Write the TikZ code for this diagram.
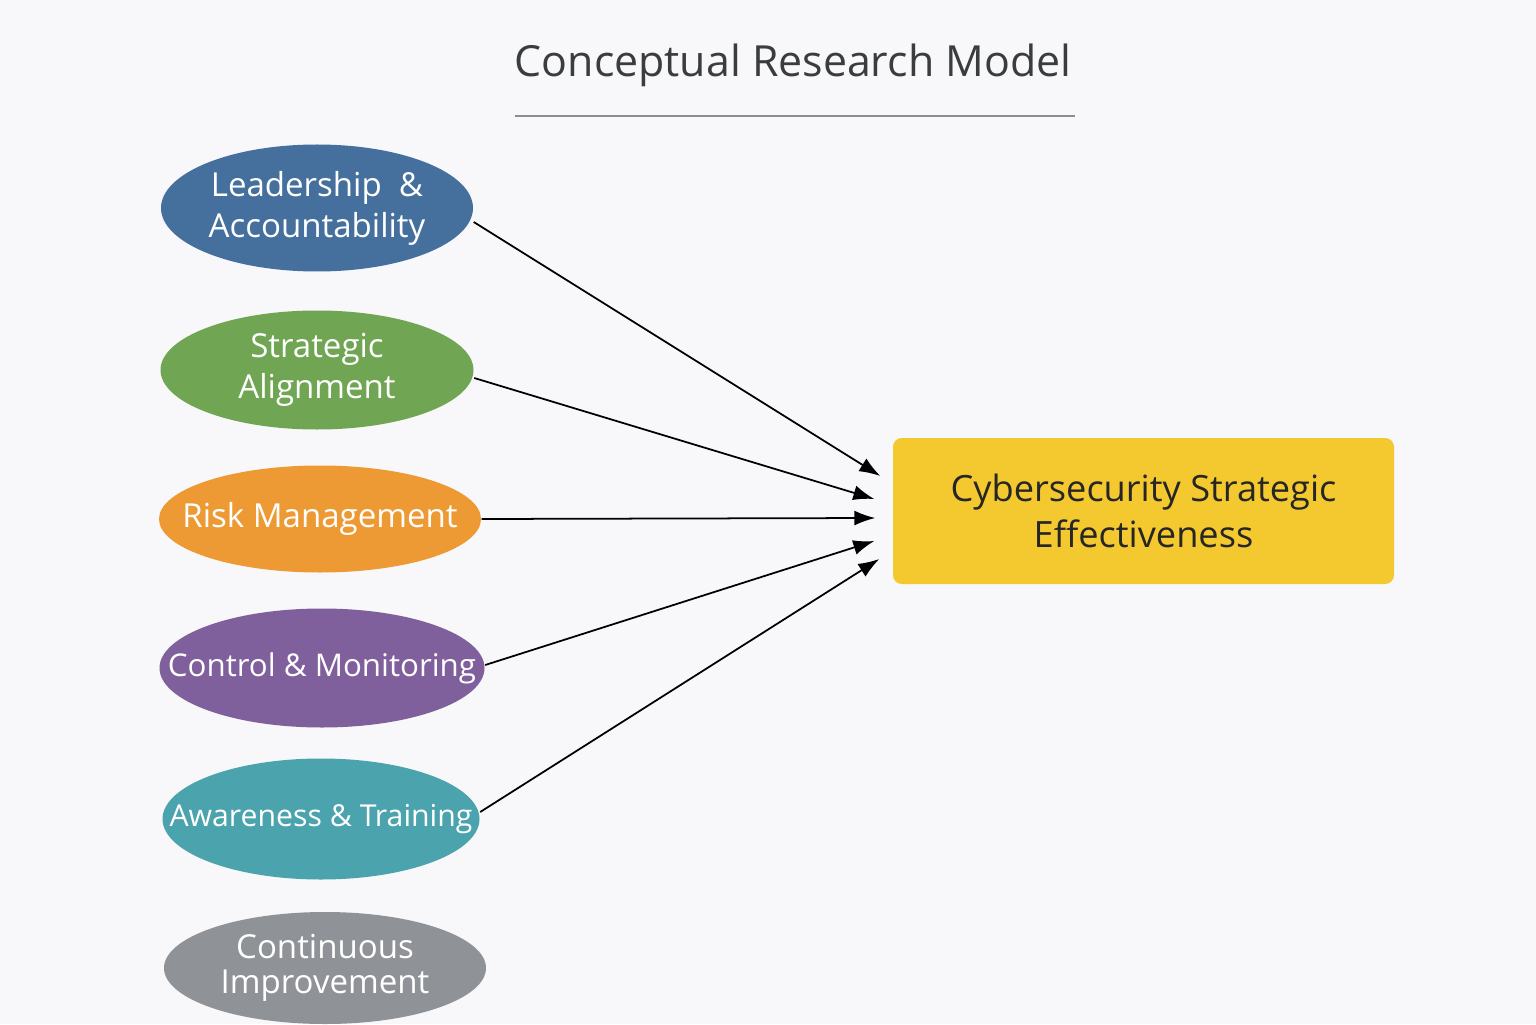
\documentclass[tikz,border=0pt]{standalone}
\usepackage{fontspec}
\setmainfont{Open Sans}
\usepackage{tikz}
\usetikzlibrary{positioning,
                shapes.geometric,
                arrows.meta}
\usepackage{xcolor}
\definecolor{pagebg}{HTML}{F8F7F9}
\definecolor{titlegray}{HTML}{3A3D40}
\definecolor{rulegray}{HTML}{8A8F94}
\definecolor{leadblue}{HTML}{45709E}
\definecolor{stratgreen}{HTML}{70A553}
\definecolor{riskorange}{HTML}{EE9A34}
\definecolor{ctrlpurple}{HTML}{7F609C}
\definecolor{awareteal}{HTML}{4BA4AD}
\definecolor{contgray}{HTML}{8F9297}
\definecolor{goalyellow}{HTML}{F4C92F}

\begin{document}
\begin{tikzpicture}[x=1cm,y=1cm]

%--------------------------------------------------
% STYLES
%--------------------------------------------------

\tikzset{
factor/.style={
ellipse,
draw=none,
inner sep=-6mm,
align=center,
text=white,
font=\fontsize{9.4}{11.7}\selectfont
},
outcome/.style={
draw=none,
rounded corners=2.5pt,
minimum width=5.01cm,
minimum height=1.46cm,
align=center,
text=black!85,
font=\fontsize{10.3}{13.2}\selectfont
},
link/.style={
-{Latex[length=2.1mm,width=1.5mm]},
line width=0.5pt,
black
}
}

%--------------------------------------------------
% FRAME
%--------------------------------------------------

\fill[pagebg] (0,0) rectangle (15.36,10.24);
\useasboundingbox (0,0) rectangle (15.36,10.24);

%--------------------------------------------------
% TITLE
%--------------------------------------------------

\node[font=\fontsize{12.2}{14}\selectfont,text=titlegray] (title)
at (7.93,9.59)
{Conceptual Research Model};

\draw[rulegray,line width=0.5pt] (5.15,9.08)--(10.75,9.08);

%--------------------------------------------------
% FACTORS
%--------------------------------------------------

\node[factor,fill=leadblue,minimum width=3.12cm,minimum height=1.27cm]
(lead) at (3.17,8.16)
{Leadership \ \&\\Accountability};

\node[factor,fill=stratgreen,minimum width=3.13cm,minimum height=1.19cm]
(strat) at (3.17,6.54)
{Strategic\\Alignment};

\node[factor,fill=riskorange,minimum width=3.22cm,minimum height=1.07cm]
(risk) at (3.20,5.05)
{Risk Management};

\node[factor,fill=ctrlpurple,minimum width=3.25cm,minimum height=1.19cm,
font=\fontsize{8.9}{11}\selectfont]
(ctrl) at (3.22,3.56)
{Control \& Monitoring};

\node[factor,fill=awareteal,minimum width=3.17cm,minimum height=1.21cm,
font=\fontsize{8.6}{11}\selectfont]
(aware) at (3.21,2.05)
{Awareness \& Training};

\node[factor,fill=contgray,minimum width=3.22cm,minimum height=1.12cm,
font=\fontsize{9.4}{10}\selectfont]
(cont) at (3.25,0.56)
{Continuous\\Improvement};

%--------------------------------------------------
% OUTCOME
%--------------------------------------------------

\node[outcome,fill=goalyellow]
(goal) at (11.435,5.13)
{Cybersecurity Strategic\\Effectiveness};

%--------------------------------------------------
% LINKS
%--------------------------------------------------

\draw[link] ([yshift=-1.4mm]lead.east) -- ([xshift=-1.2mm,yshift=3.5mm]goal.west);
\draw[link] ([yshift=-0.8mm]strat.east) -- ([xshift=-1.8mm,yshift=1.2mm]goal.west);
\draw[link] (risk.east) -- ([xshift=-1.7mm,yshift=-0.7mm]goal.west);
\draw[link] ([yshift=0.3mm]ctrl.east) -- ([xshift=-1.8mm,yshift=-3.0mm]goal.west);
\draw[link] ([yshift=0.7mm]aware.east) -- ([xshift=-1.3mm,yshift=-4.8mm]goal.west);

\end{tikzpicture}
\end{document}
